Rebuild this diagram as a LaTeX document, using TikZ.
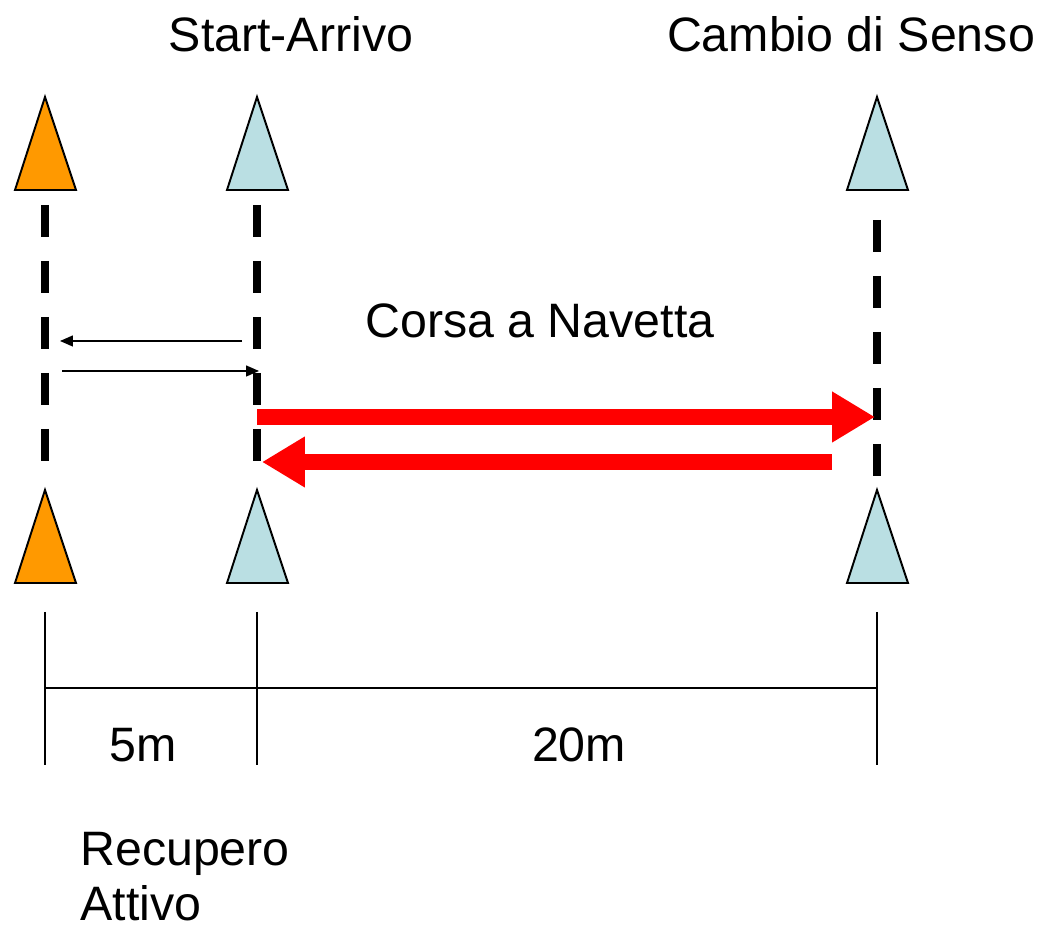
\documentclass[tikz,border=0pt]{standalone}
\usepackage{fontspec}
\setmainfont{Liberation Sans}
\usetikzlibrary{arrows.meta}

\definecolor{arancio}{HTML}{FF9900}
\definecolor{azzurro}{HTML}{BADFE3}
\definecolor{rosso}{HTML}{FF0000}

\tikzset{
  cono/.style={draw=black,line width=1.1pt},
  linea/.style={line width=4.5pt,dash pattern=on 0.64cm off 0.48cm},
  freccia/.style={-{Triangle[length=0.26cm,width=0.22cm]},line width=0.8pt},
  navetta/.style={rosso,line width=9pt,-{Triangle[length=0.86cm,width=0.96cm]}},
  quota/.style={line width=1.1pt},
  testo/.style={font=\fontsize{27.5}{33}\selectfont,inner sep=0pt}
}

\begin{document}
\begin{tikzpicture}[x=0.02cm,y=-0.02cm]
  \useasboundingbox (0,0) rectangle (1039,928);

  % Coni
  \filldraw[cono,fill=arancio] (15,190) -- (45,97) -- (76,190) -- cycle;
  \filldraw[cono,fill=azzurro] (227,190) -- (257,97) -- (288,190) -- cycle;
  \filldraw[cono,fill=azzurro] (847,190) -- (877,97) -- (908,190) -- cycle;
  \filldraw[cono,fill=arancio] (15,583) -- (45,490) -- (76,583) -- cycle;
  \filldraw[cono,fill=azzurro] (227,583) -- (257,490) -- (288,583) -- cycle;
  \filldraw[cono,fill=azzurro] (847,583) -- (877,490) -- (908,583) -- cycle;

  % Linee tratteggiate
  \draw[linea] (45,205) -- (45,462);
  \draw[linea] (257,205) -- (257,462);
  \draw[linea] (877,220) -- (877,478);

  % Punti delle frecce
  \coordinate (recuperoA) at (242,341);
  \coordinate (recuperoB) at (60,341);
  \coordinate (recuperoC) at (62,371);
  \coordinate (recuperoD) at (259,371);
  \coordinate (andata) at (257,417);
  \coordinate (cambio) at (875,417);
  \coordinate (ritorno) at (832,462);
  \coordinate (arrivo) at (262,462);

  % Frecce
  \draw[freccia] (recuperoA) -- (recuperoB);
  \draw[freccia] (recuperoC) -- (recuperoD);
  \draw[navetta] (andata) -- (cambio);
  \draw[navetta] (ritorno) -- (arrivo);

  % Quote
  \draw[quota] (45,612) -- (45,765);
  \draw[quota] (257,612) -- (257,765);
  \draw[quota] (877,612) -- (877,765);
  \draw[quota] (45,688) -- (877,688);

  % Scritte
  \node[testo,anchor=base] (startarrivo) at (291,52) {Start-Arrivo};
  \node[testo,anchor=base] (cambiosenso) at (851,52) {Cambio di Senso};
  \node[testo,anchor=base] (corsa) at (540,338) {Corsa a Navetta};
  \node[testo,anchor=base] (cinque) at (143,762) {5m};
  \node[testo,anchor=base] (venti) at (579,762) {20m};
  \node[testo,anchor=base west] (recupero) at (80,866) {Recupero};
  \node[testo,anchor=base west] (attivo) at (80,921) {Attivo};
\end{tikzpicture}
\end{document}
